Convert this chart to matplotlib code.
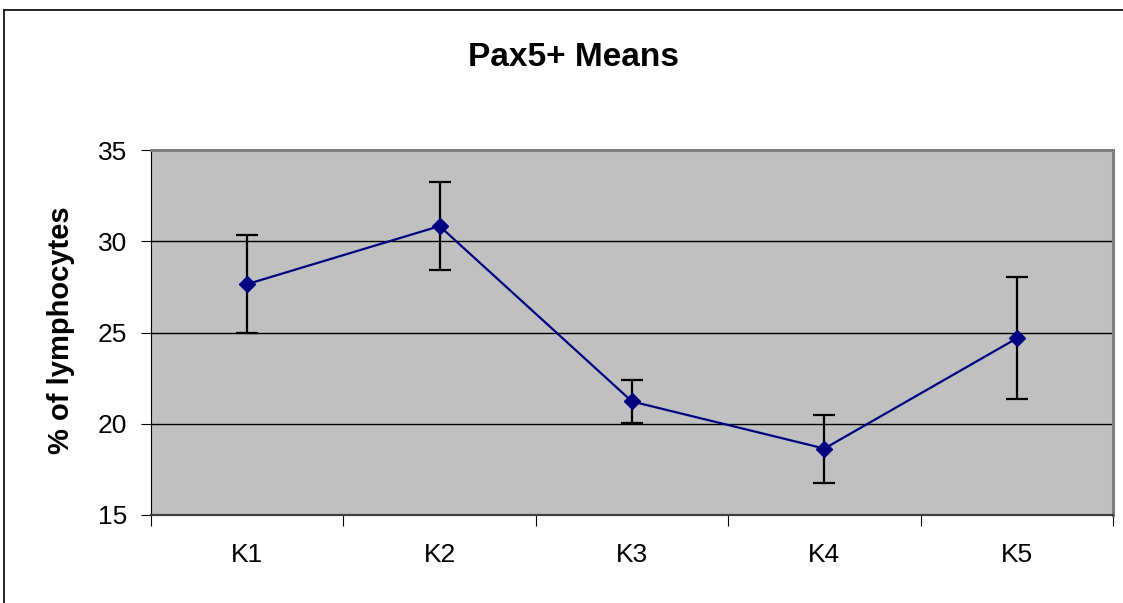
import matplotlib
matplotlib.use("Agg")
import matplotlib.pyplot as plt
from matplotlib.lines import Line2D

categories = ["K1", "K2", "K3", "K4", "K5"]
means = [27.65, 30.83, 21.22, 18.64, 24.68]
errors = [2.70, 2.43, 1.17, 1.86, 3.35]
yticks = [15, 20, 25, 30, 35]

plt.rcParams['font.family'] = ['Liberation Sans', 'DejaVu Sans']

fig = plt.figure(figsize=(11.23, 6.03), dpi=100)
ax = fig.add_axes([151/1123, 1 - 515/603, 962/1123, 365/603])
ax.set_facecolor("#C0C0C0")

x = list(range(len(categories)))
ax.errorbar(x, means, yerr=errors, fmt="none", ecolor="black",
            elinewidth=1.6, capsize=8, capthick=1.6, zorder=3)
ax.plot(x, means, color="#000080", lw=1.6, marker="D", markersize=8,
        markerfacecolor="#000080", markeredgecolor="#000080", zorder=4)

ax.set_xlim(-0.5, len(categories) - 0.5)
ax.set_ylim(15, 35)
ax.set_yticks(yticks)
ax.set_yticklabels([str(v) for v in yticks], fontsize=19)
ax.yaxis.grid(True, color="black", lw=1.0)
ax.set_axisbelow(True)

ax.set_xticks([i - 0.5 for i in range(len(categories) + 1)])
ax.set_xticklabels([])
ax.set_xticks(x, minor=True)
ax.set_xticklabels(categories, minor=True, fontsize=19)
ax.tick_params(axis="x", which="major", length=8, direction="out", color="black")
ax.tick_params(axis="x", which="minor", length=0, pad=20)
ax.tick_params(axis="y", length=7, direction="out", pad=10)

for side in ["top", "right"]:
    ax.spines[side].set_color("#808080")
    ax.spines[side].set_linewidth(2.2)
ax.spines["left"].set_color("black")
ax.spines["bottom"].set_color("#404040")
ax.spines["bottom"].set_linewidth(1.6)

fig.text(61/1123, 1 - 330/603, "% of lymphocytes", rotation=90,
         ha="center", va="center", fontsize=21, fontweight="bold")

fig.text(574/1123, 1 - 57/603, "Pax5+ Means", ha="center", va="center",
         fontsize=24, fontweight="bold")

# outer chart border (left and top)
fig.add_artist(Line2D([4/1123, 4/1123], [0, 1 - 10/603], color="black", lw=1.2,
                      transform=fig.transFigure))
fig.add_artist(Line2D([4/1123, 1], [1 - 10/603, 1 - 10/603], color="black", lw=1.2,
                      transform=fig.transFigure))

fig.savefig("out.png", dpi=100)
